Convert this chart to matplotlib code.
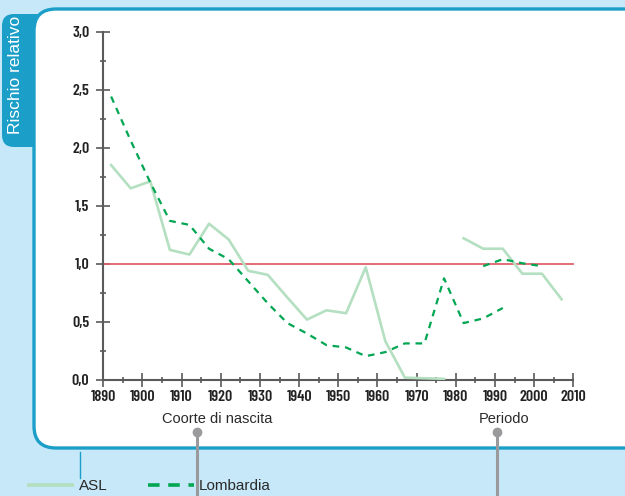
import matplotlib
matplotlib.use("Agg")
import matplotlib.pyplot as plt
from matplotlib.patches import FancyBboxPatch
from matplotlib.ticker import MultipleLocator, FuncFormatter

# ---------------- data ----------------
asl_cohort_years = [1892, 1897, 1902, 1907, 1912, 1917, 1922, 1927, 1932, 1937, 1942, 1947, 1952, 1957, 1962, 1967, 1972, 1977]
asl_cohort_rr    = [1.85, 1.65, 1.71, 1.12, 1.08, 1.345, 1.21, 0.94, 0.905, 0.71, 0.52, 0.60, 0.575, 0.97, 0.335, 0.02, 0.015, 0.01]
asl_period_years = [1982, 1987, 1992, 1997, 2002, 2007]
asl_period_rr    = [1.22, 1.13, 1.13, 0.915, 0.915, 0.695]

lomb_cohort_years = [1892, 1897, 1902, 1907, 1912, 1917, 1922, 1927, 1932, 1937, 1942, 1947, 1952, 1957, 1962, 1967, 1972, 1977, 1982, 1987, 1992]
lomb_cohort_rr    = [2.44, 2.06, 1.70, 1.37, 1.335, 1.13, 1.04, 0.85, 0.66, 0.49, 0.40, 0.30, 0.28, 0.205, 0.24, 0.315, 0.315, 0.875, 0.49, 0.53, 0.62]
lomb_period_years = [1987, 1992, 1997, 2002]
lomb_period_rr    = [0.98, 1.04, 1.005, 0.98]

reference_rr = 1.0
x_range = [1890, 2010]
y_range = [0.0, 3.0]

ylabel = "Rischio relativo"
group_labels = ["Coorte di nascita", "Periodo"]
legend_labels = ["ASL", "Lombardia"]

# ---------------- styles ----------------
BG = "#c7e8f8"
BLUE = "#1b9fc8"
ASL_C = "#b4dfc0"
LOMB_C = "#00a651"
RED = "#e0606a"
AX_C = "#5a5a5a"
GRAY = "#9a9a9c"
NARROW = ["Barlow Condensed", "Roboto Condensed", "DejaVu Sans"]
SANS = ["Liberation Sans", "DejaVu Sans"]

W, H = 625, 496
fig = plt.figure(figsize=(W / 100, H / 100), dpi=100)
fig.patch.set_facecolor(BG)

# background decoration axes in pixel coordinates
bg = fig.add_axes([0, 0, 1, 1], zorder=0)
bg.set_xlim(0, W)
bg.set_ylim(H, 0)
bg.axis("off")

# left tab
bg.add_patch(FancyBboxPatch((2, 14), 60, 133, boxstyle="round,pad=0,rounding_size=12",
                            fc=BLUE, ec="none"))
# white panel with blue border
bg.add_patch(FancyBboxPatch((34, 9), 640, 439, boxstyle="round,pad=0,rounding_size=22",
                            fc="white", ec=BLUE, lw=2.4))
bg.text(16, 75, ylabel, rotation=90, color="white", fontsize=12.5,
        family=SANS, ha="center", va="center")

# group labels
bg.text(217, 419, group_labels[0], fontsize=10.5, family=SANS, color="#2a2a2a",
        ha="center", va="center")
bg.text(504, 419, group_labels[1], fontsize=10.5, family=SANS, color="#2a2a2a",
        ha="center", va="center")
for px in (197, 497):
    bg.plot([px, px], [432, H + 5], color=GRAY, lw=2.2, solid_capstyle="butt", zorder=3)
    bg.plot([px], [432], "o", color=GRAY, ms=6, zorder=3)

# legend
bg.plot([80, 80], [452, 478], color=BLUE, lw=1.0)
bg.plot([27, 74], [485, 485], color=ASL_C, lw=2.6, solid_capstyle="butt")
bg.text(79, 486, legend_labels[0], fontsize=11, family=SANS, color="#2a2a2a",
        ha="left", va="center")
bg.plot([148, 194], [485, 485], color=LOMB_C, lw=2.6, dashes=(3.2, 2.4))
bg.text(199, 486, legend_labels[1], fontsize=11, family=SANS, color="#2a2a2a",
        ha="left", va="center")

# ---------------- main chart ----------------
left, right = 103.3 / W, 573.3 / W
bottom, top = 1 - 380 / H, 1 - 31.5 / H
ax = fig.add_axes([left, bottom, right - left, top - bottom], zorder=2)
ax.patch.set_alpha(0)
ax.set_xlim(*x_range)
ax.set_ylim(*y_range)

ax.plot(x_range, [reference_rr, reference_rr], color=RED, lw=1.3, zorder=2, clip_on=False)
ax.plot(asl_cohort_years, asl_cohort_rr, color=ASL_C, lw=1.9, zorder=3)
ax.plot(asl_period_years, asl_period_rr, color=ASL_C, lw=1.9, zorder=3)
ax.plot(lomb_cohort_years, lomb_cohort_rr, color=LOMB_C, lw=1.6, dashes=(3.0, 2.6), zorder=4)
ax.plot(lomb_period_years, lomb_period_rr, color=LOMB_C, lw=1.6, dashes=(3.0, 2.6), zorder=4)

for s in ("top", "right"):
    ax.spines[s].set_visible(False)
for s in ("left", "bottom"):
    ax.spines[s].set_color(AX_C)
    ax.spines[s].set_linewidth(1.5)

ax.xaxis.set_major_locator(MultipleLocator(10))
ax.xaxis.set_minor_locator(MultipleLocator(5))
ax.yaxis.set_major_locator(MultipleLocator(0.5))
ax.yaxis.set_minor_locator(MultipleLocator(0.25))
ax.yaxis.set_major_formatter(FuncFormatter(lambda v, p: f"{v:.1f}".replace(".", ",")))
ax.xaxis.set_major_formatter(FuncFormatter(lambda v, p: f"{int(v)}"))

ax.tick_params(which="major", direction="inout", length=10, width=1.2, color=AX_C)
ax.tick_params(which="minor", direction="inout", length=4, width=1.2, color=AX_C)
ax.tick_params(axis="y", which="major", pad=5)
ax.tick_params(axis="x", which="major", pad=2)
for lab in ax.get_xticklabels() + ax.get_yticklabels():
    lab.set_fontfamily(NARROW)
    lab.set_fontweight(600)
    lab.set_fontsize(11.5)
    lab.set_color("#222222")

fig.savefig("out.png", dpi=100, facecolor=BG)
